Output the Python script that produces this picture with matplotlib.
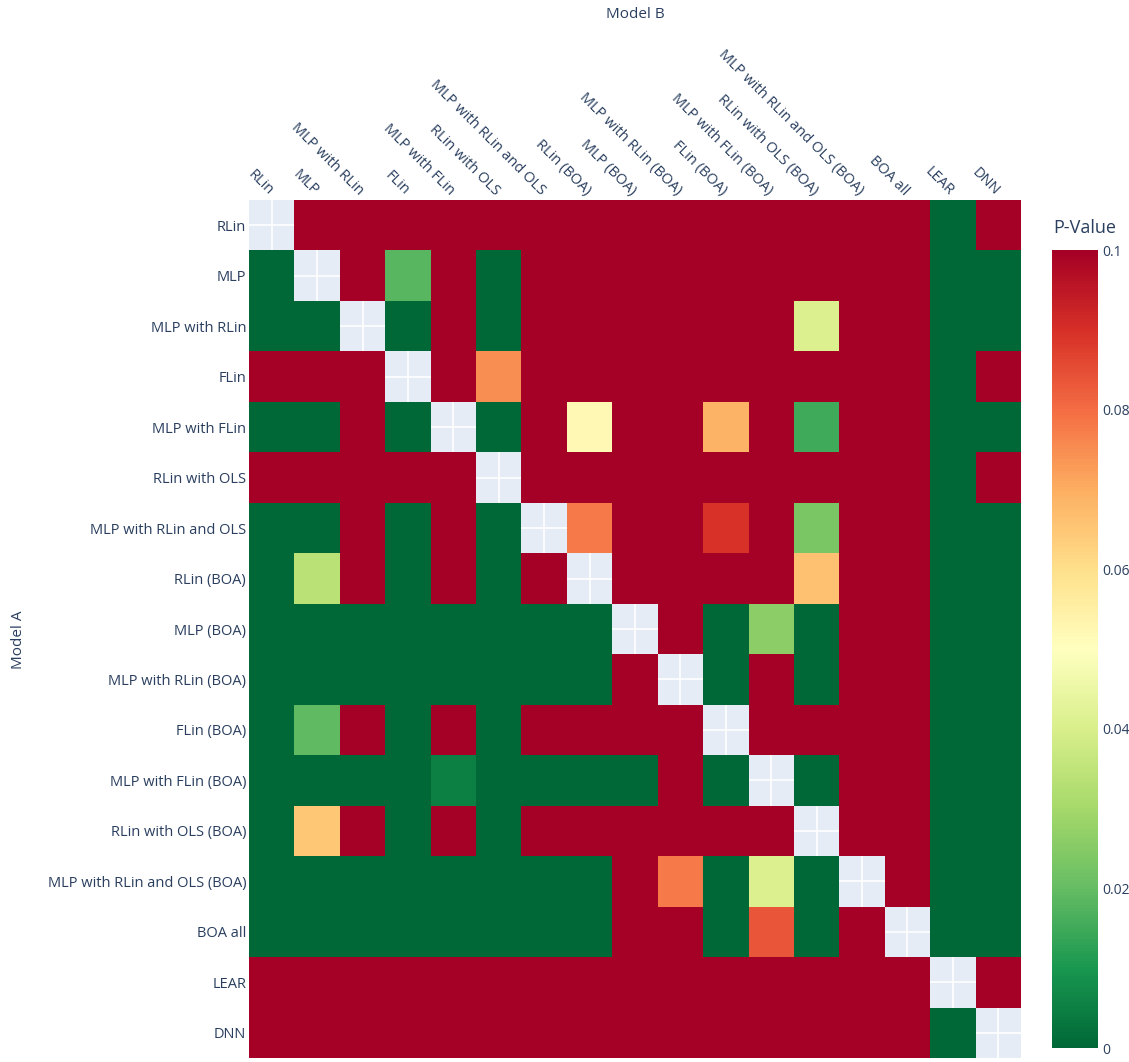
import numpy as np
import matplotlib
matplotlib.use("Agg")
import matplotlib.pyplot as plt
from matplotlib.colors import LinearSegmentedColormap, Normalize
from matplotlib.colorbar import ColorbarBase

plt.rcParams['font.family'] = ['Open Sans', 'DejaVu Sans']

models = [
    "RLin", "MLP", "MLP with RLin", "FLin", "MLP with FLin", "RLin with OLS",
    "MLP with RLin and OLS", "RLin (BOA)", "MLP (BOA)", "MLP with RLin (BOA)",
    "FLin (BOA)", "MLP with FLin (BOA)", "RLin with OLS (BOA)",
    "MLP with RLin and OLS (BOA)", "BOA all", "LEAR", "DNN",
]

N = np.nan
# p-values of the test "Model A outperforms Model B" (rows = A, columns = B)
p_rlin      = [N, 1, 1, 1, 1, 1, 1, 1, 1, 1, 1, 1, 1, 1, 1, 0, 1]
p_mlp       = [0, N, 1, 0.018, 1, 0, 1, 1, 1, 1, 1, 1, 1, 1, 1, 0, 0]
p_mlp_rlin  = [0, 0, N, 0, 1, 0, 1, 1, 1, 1, 1, 1, 0.041, 1, 1, 0, 0]
p_flin      = [1, 1, 1, N, 1, 0.075, 1, 1, 1, 1, 1, 1, 1, 1, 1, 0, 1]
p_mlp_flin  = [0, 0, 1, 0, N, 0, 1, 0.052, 1, 1, 0.069, 1, 0.015, 1, 1, 0, 0]
p_rlin_ols  = [1, 1, 1, 1, 1, N, 1, 1, 1, 1, 1, 1, 1, 1, 1, 0, 1]
p_mlp_ro    = [0, 0, 1, 0, 1, 0, N, 0.078, 1, 1, 0.0895, 1, 0.0234, 1, 1, 0, 0]
p_rlin_b    = [0, 0.0337, 1, 0, 1, 0, 1, N, 1, 1, 1, 1, 0.0664, 1, 1, 0, 0]
p_mlp_b     = [0, 0, 0, 0, 0, 0, 0, 0, N, 1, 0, 0.0258, 0, 1, 1, 0, 0]
p_mlp_rlin_b = [0, 0, 0, 0, 0, 0, 0, 0, 1, N, 0, 1, 0, 1, 1, 0, 0]
p_flin_b    = [0, 0.0195, 1, 0, 1, 0, 1, 1, 1, 1, N, 1, 1, 1, 1, 0, 0]
p_mlp_flin_b = [0, 0, 0.0003, 0, 0.005, 0, 0.0003, 0, 0, 1, 0, N, 0, 1, 1, 0, 0]
p_rlin_ols_b = [0, 0.065, 1, 0, 1, 0, 1, 1, 1, 1, 1, 1, N, 1, 1, 0, 0]
p_mlp_ro_b  = [0, 0, 0, 0, 0, 0, 0, 0, 1, 0.078, 0, 0.041, 0, N, 1, 0, 0]
p_boa_all   = [0, 0, 0, 0, 0, 0, 0, 0, 1, 1, 0, 0.0838, 0, 1, N, 0, 0]
p_lear      = [1, 1, 1, 1, 1, 1, 1, 1, 1, 1, 1, 1, 1, 1, 1, N, 1]
p_dnn       = [1, 1, 1, 1, 1, 1, 1, 1, 1, 1, 1, 1, 1, 1, 1, 0, N]

pvals = np.array([
    p_rlin, p_mlp, p_mlp_rlin, p_flin, p_mlp_flin, p_rlin_ols, p_mlp_ro,
    p_rlin_b, p_mlp_b, p_mlp_rlin_b, p_flin_b, p_mlp_flin_b, p_rlin_ols_b,
    p_mlp_ro_b, p_boa_all, p_lear, p_dnn,
], dtype=float)

# reversed red-yellow-green scale: green = 0, red = 0.1 and above
rdylgn = ['#a50026', '#d73027', '#f46d43', '#fdae61', '#fee08b', '#ffffbf',
          '#d9ef8b', '#a6d96a', '#66bd63', '#1a9850', '#006837']
cmap = LinearSegmentedColormap.from_list('rdylgn_r', rdylgn[::-1])
norm = Normalize(vmin=0.0, vmax=0.1)

text_color = '#2a3f5f'
W, H = 1129, 1062
fig = plt.figure(figsize=(W / 100, H / 100), dpi=100)

ax = fig.add_axes([249 / W, 1 - 1058 / H, 772 / W, 858 / H])
ax.set_facecolor('#E5ECF6')
n = len(models)
data = np.ma.masked_invalid(np.clip(pvals, 0, 0.1))
ax.pcolormesh(np.arange(n + 1) - 0.5, np.arange(n + 1) - 0.5, data,
              cmap=cmap, norm=norm, zorder=1)
ax.set_xlim(-0.5, n - 0.5)
ax.set_ylim(n - 0.5, -0.5)
ax.set_axisbelow(True)
ax.grid(True, color='white', linewidth=1.2, zorder=0.5)
for s in ax.spines.values():
    s.set_visible(False)

ax.set_xticks(np.arange(n))
ax.set_yticks(np.arange(n))
ax.xaxis.tick_top()
ax.set_xticklabels(models, rotation=-45, ha='right', va='center_baseline',
                   rotation_mode='anchor', fontsize=10.5, color=text_color)
ax.set_yticklabels(models, fontsize=10.5, color=text_color)
ax.tick_params(axis='y', length=0, pad=2)
ax.tick_params(axis='x', length=0, pad=6)

fig.text(635 / W, 1 - 15 / H, 'Model B', ha='center', va='center',
         fontsize=11, color=text_color)
fig.text(18 / W, 1 - 640 / H, 'Model A', ha='center', va='center',
         rotation=90, fontsize=11, color=text_color)

cax = fig.add_axes([1052 / W, 1 - 1048 / H, 46 / W, 798 / H])
cb = ColorbarBase(cax, cmap=cmap, norm=norm, orientation='vertical')
cb.outline.set_visible(False)
cb.set_ticks([0, 0.02, 0.04, 0.06, 0.08, 0.1])
cb.set_ticklabels(['0', '0.02', '0.04', '0.06', '0.08', '0.1'])
cax.tick_params(length=0, labelsize=10, labelcolor=text_color, pad=3)
fig.text(1053 / W, 1 - 228 / H, 'P-Value', ha='left', va='center',
         fontsize=13, color=text_color)

fig.savefig('out.png', dpi=100, facecolor='white')
